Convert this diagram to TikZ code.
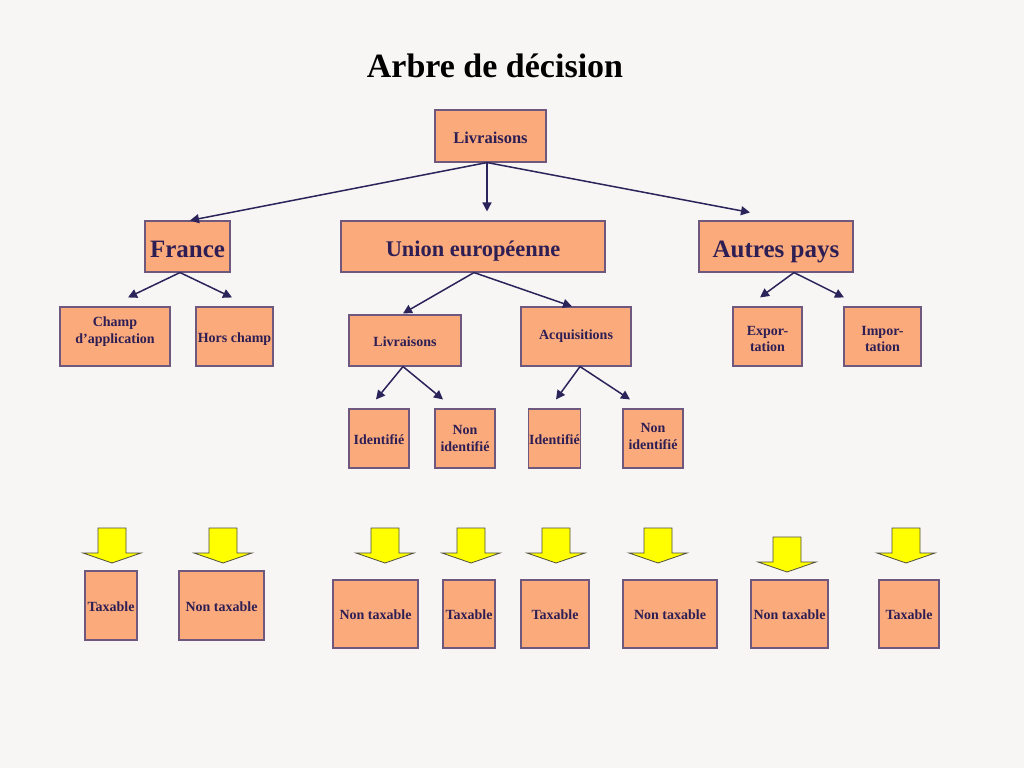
\documentclass[tikz,border=0pt]{standalone}
\usepackage{fontspec}
\setmainfont{Liberation Serif}
\usetikzlibrary{arrows.meta}
\definecolor{bgc}{RGB}{248,246,245}
\definecolor{boxfill}{RGB}{251,170,124}
\definecolor{boxline}{RGB}{110,88,126}
\definecolor{txtc}{RGB}{45,30,84}
\definecolor{arrc}{RGB}{42,36,90}
\definecolor{yel}{RGB}{255,255,0}
\tikzset{
  box/.style={draw=boxline, line width=1.1pt, fill=boxfill, text=txtc, inner sep=1pt,
    align=center, font=\bfseries\fontsize{14}{16.5}\selectfont},
  oneline/.style={text height=11.5pt, text depth=0pt},
  bigbox/.style={box, text height=22pt, text depth=0pt, font=\bfseries\fontsize{25}{28}\selectfont},
  arr/.style={draw=arrc, line width=1.5pt, -{Triangle[length=9pt,width=9pt]}},
  yarrow/.style={draw={rgb,255:red,80;green,80;blue,60}, line width=0.8pt, fill=yel}
}
\begin{document}
\begin{tikzpicture}[x=1pt,y=1pt,yscale=-1,xscale=1]
\fill[bgc] (0,0) rectangle (1024,768);
\useasboundingbox (0,0) rectangle (1024,768);
% title
\node (title) at (495,66) [font=\bfseries\fontsize{34}{38}\selectfont] {Arbre de décision};
% level 0 and 1
\node (top) at (490.5,136) [box, minimum width=111, minimum height=52, text height=14pt, text depth=0pt, font=\bfseries\fontsize{16.5}{19}\selectfont] {Livraisons};
\node (france) at (187.5,246.5) [bigbox, minimum width=85, minimum height=51] {France};
\node (ue) at (473,246.5) [bigbox, minimum width=264, minimum height=51, text height=19pt, font=\bfseries\fontsize{22.4}{26}\selectfont] {Union européenne};
\node (autres) at (776,246.5) [bigbox, minimum width=154, minimum height=51] {Autres pays};
% level 2
\node (champ) at (115,336.5) [box, minimum width=110, minimum height=59] {Champ\\d’application\\[-4pt]\mbox{}};
\node (hors) at (234.5,336.5) [box, oneline, minimum width=77, minimum height=59] {Hors champ};
\node (livue) at (405,340.5) [box, oneline, minimum width=112, minimum height=51] {Livraisons};
\node (acq) at (576,336.5) [box, minimum width=110, minimum height=59] {Acquisitions};
\node (expo) at (767.5,336.5) [box, minimum width=69, minimum height=59] {\rule{0pt}{14pt}Expor-\\tation};
\node (impo) at (882.5,336.5) [box, minimum width=77, minimum height=59] {\rule{0pt}{14pt}Impor-\\tation};
% level 3
\node (idA) at (379,438.5) [box, oneline, minimum width=60, minimum height=59] {Identifié};
\node (nidA) at (465,438.5) [box, minimum width=60, minimum height=59] {Non\\identifié};
\node (idB) at (554.5,438.5) [box, oneline, minimum width=51, minimum height=59] {Identifié};
\node (nidB) at (653,438.5) [box, minimum width=60, minimum height=59] {Non\\identifié\rule[-4pt]{0pt}{4pt}};
% results
\node (resA) at (111,605.5) [box, oneline, minimum width=52, minimum height=69] {Taxable};
\node (resB) at (221.5,605.5) [box, oneline, minimum width=85, minimum height=69] {Non taxable};
\node (resC) at (375.5,614) [box, oneline, minimum width=85, minimum height=68] {Non taxable};
\node (resD) at (469,614) [box, oneline, minimum width=52, minimum height=68] {Taxable};
\node (resE) at (555,614) [box, oneline, minimum width=68, minimum height=68] {Taxable};
\node (resF) at (670,614) [box, oneline, minimum width=94, minimum height=68] {Non taxable};
\node (resG) at (789.5,614) [box, oneline, minimum width=77, minimum height=68] {Non taxable};
\node (resH) at (909,614) [box, oneline, minimum width=60, minimum height=68] {Taxable};
% yellow block arrows
\foreach \cx/\ty in {112/528, 223/528, 385/528, 471/528, 556/528, 658/528, 787/537, 906/528}
  \draw[yarrow] (\cx-14,\ty) -- (\cx+14,\ty) -- (\cx+14,\ty+25) -- (\cx+29,\ty+25)
    -- (\cx,\ty+35) -- (\cx-29,\ty+25) -- (\cx-14,\ty+25) -- cycle;
% connectors
\coordinate (topout) at ([xshift=-3.5pt]top.south);
\draw[arr] (topout) -- ([xshift=2.5pt]france.north);
\draw[arr] (topout) -- ([xshift=14pt,yshift=-9pt]ue.north);
\draw[arr] (topout) -- ([xshift=-26pt,yshift=-8pt]autres.north);
\draw[arr] ([xshift=-7.5pt]france.south) -- ([xshift=13pt,yshift=-9pt]champ.north);
\draw[arr] ([xshift=-7.5pt]france.south) -- ([xshift=-2.5pt,yshift=-9pt]hors.north);
\draw[arr] ([xshift=1pt]ue.south) -- ([xshift=-2pt,yshift=-1pt]livue.north);
\draw[arr] ([xshift=1pt]ue.south) -- ([xshift=-4pt]acq.north);
\draw[arr] ([xshift=-2pt]livue.south) -- ([xshift=-3pt,yshift=-9pt]idA.north);
\draw[arr] ([xshift=-2pt]livue.south) -- ([xshift=-22pt,yshift=-9pt]nidA.north);
\draw[arr] ([xshift=4pt]acq.south) -- ([xshift=1.5pt,yshift=-9pt]idB.north);
\draw[arr] ([xshift=4pt]acq.south) -- ([xshift=-23pt,yshift=-9pt]nidB.north);
\draw[arr] ([xshift=18pt]autres.south) -- ([xshift=-7.5pt,yshift=-9pt]expo.north);
\draw[arr] ([xshift=18pt]autres.south) -- ([xshift=-38.5pt,yshift=-9pt]impo.north);
\end{tikzpicture}
\end{document}
